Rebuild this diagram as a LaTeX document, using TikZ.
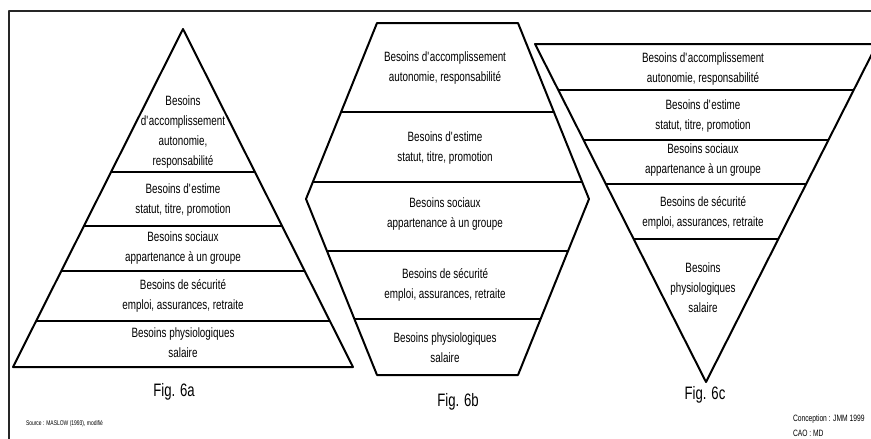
\documentclass[tikz,border=0pt]{standalone}
\usepackage{fontspec}
\setmainfont{Liberation Sans}[FakeStretch=0.73]
\newcommand\apos{\textquotesingle}
\begin{document}
\begin{tikzpicture}[x=1pt,y=-1pt,line join=round,line width=2pt,
	txt/.style={align=center,inner sep=0pt,font=\fontsize{13.5}{20}\selectfont},
	figcap/.style={inner sep=0pt,font=\fontsize{18}{20}\selectfont},
	note/.style={inner sep=0pt,anchor=west,align=left,font=\fontsize{#1}{15}\selectfont}]
	\useasboundingbox (0,0) rectangle (871,439);
	\draw[black!85,line width=2pt] (8.5,439)coordinate(F1)--(8.5,10.5)coordinate(F2)--(871,10.5)coordinate(F3);
	% Fig. 6a : pyramide
	\path (183,29)coordinate(A1) (13,367)coordinate(A2) (353,367)coordinate(A3);
	\begin{scope}
		\clip (A1)--(A2)--(A3)--cycle;
		\foreach \y in {172,226,271,321} {\draw (0,\y)--(871,\y);}
	\end{scope}
	\draw (A1)--(A2)--(A3)--cycle;
	\foreach \n/\y/\t in {1/132/{Besoins\\d\apos accomplissement\\autonomie,\\responsabilité},
		2/200/{Besoins d\apos estime\\statut, titre, promotion},
		3/248/{Besoins sociaux\\appartenance à un groupe},
		4/296/{Besoins de sécurité\\emploi, assurances, retraite},
		5/343/{Besoins physiologiques\\salaire}}
	{\node[txt] (a\n) at (183,\y) {\t};}
	\node[figcap] (capa) at (174,392) {Fig. 6a};
	% Fig. 6b : hexagone
	\path (377,23)coordinate(B1) (518,23)coordinate(B2) (589,199)coordinate(B3)
		(518,375)coordinate(B4) (377,375)coordinate(B5) (306,199)coordinate(B6);
	\begin{scope}
		\clip (B1)--(B2)--(B3)--(B4)--(B5)--(B6)--cycle;
		\foreach \y in {112,182,251,319} {\draw (0,\y)--(871,\y);}
	\end{scope}
	\draw (B1)--(B2)--(B3)--(B4)--(B5)--(B6)--cycle;
	\foreach \n/\y/\t in {1/68/{Besoins d\apos accomplissement\\autonomie, responsabilité},
		2/148/{Besoins d\apos estime\\statut, titre, promotion},
		3/214/{Besoins sociaux\\appartenance à un groupe},
		4/285/{Besoins de sécurité\\emploi, assurances, retraite},
		5/348/{Besoins physiologiques\\salaire}}
	{\node[txt] (b\n) at (445,\y) {\t};}
	\node[figcap] (capb) at (458,402) {Fig. 6b};
	% Fig. 6c : pyramide inversée
	\path (535,44)coordinate(C1) (877,44)coordinate(C2) (706,382)coordinate(C3);
	\begin{scope}
		\clip (C1)--(C2)--(C3)--cycle;
		\foreach \y in {90,140,184,239} {\draw (0,\y)--(871,\y);}
	\end{scope}
	\draw (C1)--(C2)--(C3)--cycle;
	\foreach \n/\y/\t in {1/69/{Besoins d\apos accomplissement\\autonomie, responsabilité},
		2/116/{Besoins d\apos estime\\statut, titre, promotion},
		3/160/{Besoins sociaux\\appartenance à un groupe},
		4/213/{Besoins de sécurité\\emploi, assurances, retraite},
		5/288/{Besoins\\physiologiques\\salaire}}
	{\node[txt] (c\n) at (703,\y) {\t};}
	\node[figcap] (capc) at (705,395) {Fig. 6c};
	\node[note=6.8] (src) at (25,424) {Source : MASLOW (1993), modifié};
	\node[note=9.2] (cao) at (792,425.5) {Conception : JMM 1999\\CAO : MD};
\end{tikzpicture}
\end{document}
